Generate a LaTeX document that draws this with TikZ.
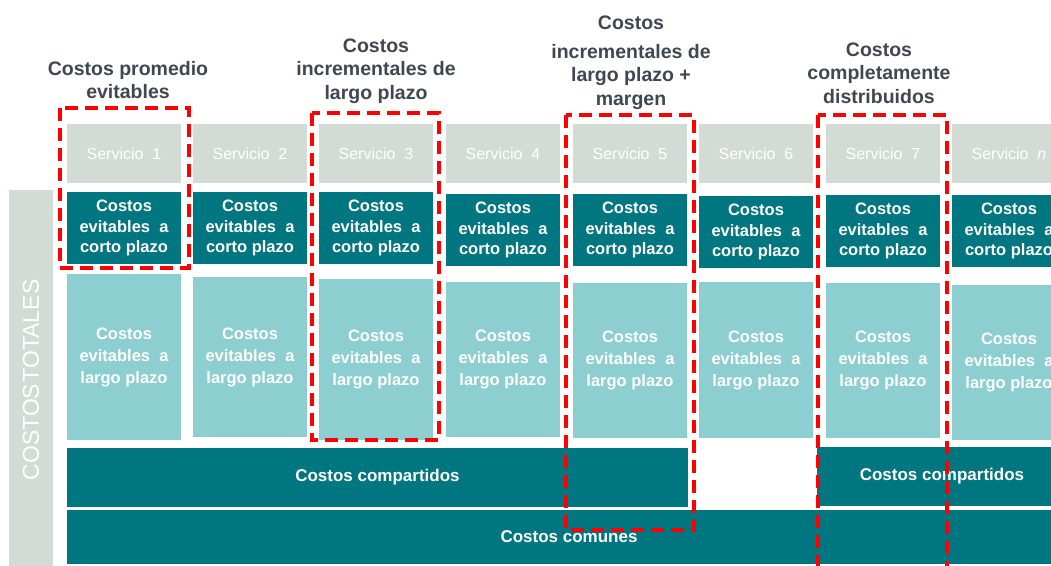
\documentclass[tikz,border=0pt]{standalone}
\usepackage{fontspec}
\setmainfont{Liberation Sans}
\usepackage{xcolor}
\definecolor{ServGray}{RGB}{211,220,212}
\definecolor{DarkTeal}{RGB}{0,118,128}
\definecolor{LightTeal}{RGB}{141,207,208}
\definecolor{LabelGray}{RGB}{63,71,80}
\definecolor{DashRed}{RGB}{255,0,0}
\usetikzlibrary{positioning}
\newcommand{\cortotext}{Costos\\evitables\ \ a\\corto plazo}
\newcommand{\largotext}{Costos\\evitables\ \ a\\largo plazo}
\tikzset{
  % Service header
  servbox/.style={
    fill=ServGray,
    text=white,
    minimum width=114pt,
    minimum height=59pt,
    inner sep=0pt,
    font=\fontsize{16}{19}\selectfont
  },
  % Short-run avoidable costs
  cortobox/.style={
    fill=DarkTeal,
    text=white,
    minimum width=114pt,
    minimum height=72pt,
    inner sep=0pt,
    align=center,
    font=\fontsize{16.5}{20.5}\selectfont\bfseries
  },
  % Long-run avoidable costs
  largobox/.style={
    fill=LightTeal,
    text=white,
    minimum width=114pt,
    inner sep=0pt,
    align=center,
    font=\fontsize{16.5}{22}\selectfont\bfseries
  },
  % Wide bars
  widebar/.style={
    fill=DarkTeal,
    text=white,
    minimum height=59pt,
    inner sep=0pt,
    font=\fontsize{17}{20}\selectfont\bfseries
  },
  % Total costs side bar
  totalbar/.style={
    fill=ServGray,
    text=white,
    rotate=90,
    minimum width=380pt,
    minimum height=44pt,
    inner sep=0pt,
    font=\fontsize{23}{23}\selectfont
  },
  % Cost standard label
  costlabel/.style={
    text=LabelGray,
    align=center,
    inner sep=0pt,
    font=\fontsize{19.5}{23.5}\selectfont\bfseries
  },
  % Dashed selection frame
  selbox/.style={
    draw=DashRed,
    line width=4pt,
    dash pattern=on 13pt off 7pt
  }
}
\begin{document}
\begin{tikzpicture}[x=1pt,y=-1pt]
  \useasboundingbox (0,0) rectangle (1051,565);
  \clip (0,0) rectangle (1051,565);

  % Side bar
  \node[totalbar] (total) at (31,380) {COSTOS\kern1.5pt TOTALES};

  % Service headers
  \node[servbox] (s1) at (124,153.5) {Servicio\ \ 1};
  \node[servbox] (s2) at (250,153.5) {Servicio\ \ 2};
  \node[servbox] (s3) at (376,153.5) {Servicio\ \ 3};
  \node[servbox] (s4) at (503,153.5) {Servicio\ \ 4};
  \node[servbox] (s5) at (630,153.5) {Servicio\ \ 5};
  \node[servbox] (s6) at (756,153.5) {Servicio\ \ 6};
  \node[servbox] (s7) at (883,153.5) {Servicio\ \ 7};
  \node[servbox] (s8) at (1009,153.5) {Servicio\ \ \textit{n}};

  % Short-run costs
  \node[cortobox] (c1) at (124,228) {\cortotext};
  \node[cortobox] (c2) at (250,228) {\cortotext};
  \node[cortobox] (c3) at (376,228) {\cortotext};
  \node[cortobox] (c4) at (503,230) {\cortotext};
  \node[cortobox] (c5) at (630,230) {\cortotext};
  \node[cortobox] (c6) at (756,232) {\cortotext};
  \node[cortobox] (c7) at (883,231) {\cortotext};
  \node[cortobox] (c8) at (1009,231) {\cortotext};

  % Long-run costs
  \node[largobox, minimum height=166pt] (l1) at (124,357) {\largotext};
  \node[largobox, minimum height=160pt] (l2) at (250,357) {\largotext};
  \node[largobox, minimum height=161pt] (l3) at (376,359.5) {\largotext};
  \node[largobox, minimum height=155pt] (l4) at (503,359.5) {\largotext};
  \node[largobox, minimum height=155pt] (l5) at (630,360.5) {\largotext};
  \node[largobox, minimum height=156pt] (l6) at (756,360) {\largotext};
  \node[largobox, minimum height=155pt] (l7) at (883,360.5) {\largotext};
  \node[largobox, minimum height=155pt] (l8) at (1009,362.5) {\largotext};

  % Shared and common costs
  \node[widebar, minimum width=621pt] (shared1) at (377.5,477.5) {Costos compartidos};
  \node[widebar, minimum width=250pt] (shared2) at (942,476.5) {Costos compartidos};
  \node[widebar, minimum width=1004pt, minimum height=54pt] (common) at (569,537) {Costos comunes};

  % Labels
  \node[costlabel] (lab1) at (128,80) {Costos promedio\\evitables};
  \node[costlabel] (lab2) at (376,71) {Costos\\incrementales de\\largo plazo};
  \node[costlabel] (lab3) at (631,63) {Costos\\[5pt]incrementales de\\largo plazo +\\margen};
  \node[costlabel] (lab4) at (879,73) {Costos\\completamente\\distribuidos};

  % Frames
  \draw[selbox] (60,108) rectangle (189,268);
  \draw[selbox] (312,113) rectangle (439,440);
  \draw[selbox] (566,115) rectangle (694,530);
  \draw[selbox] (818,115) rectangle (947,600);
\end{tikzpicture}
\end{document}
